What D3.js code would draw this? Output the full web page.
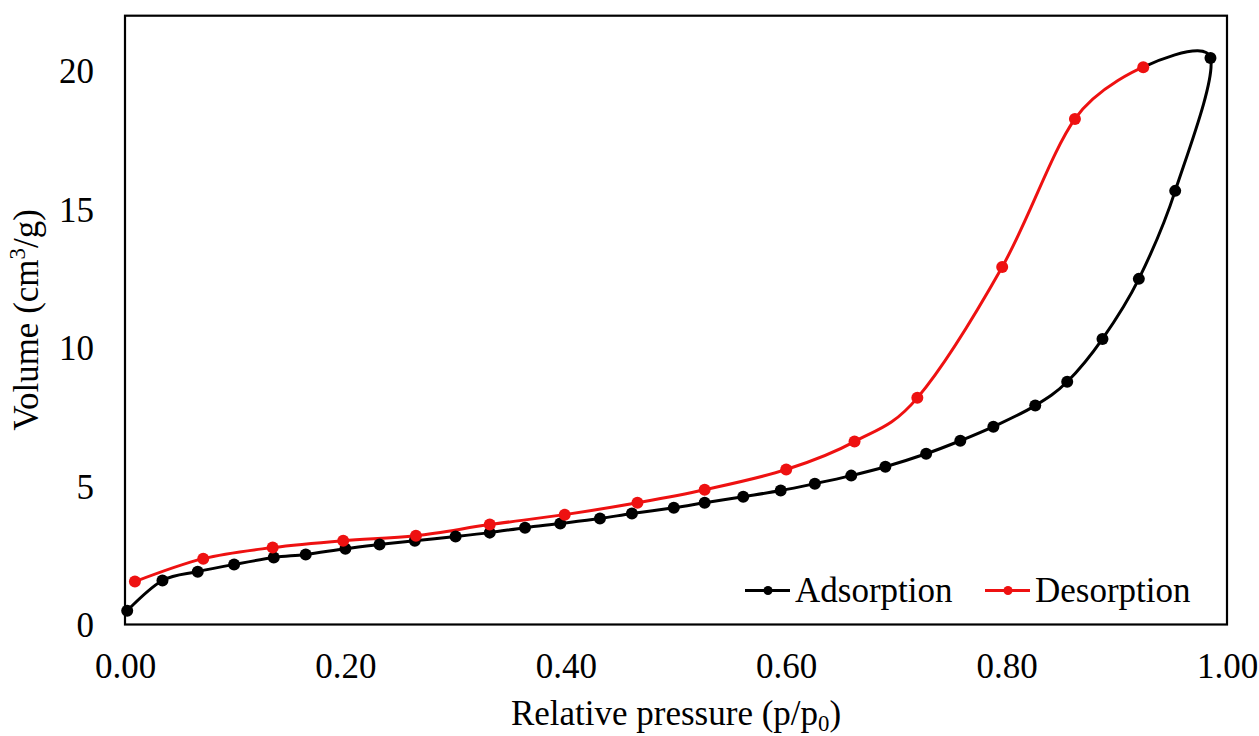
<!DOCTYPE html>
<html>
<head>
<meta charset="utf-8">
<script src="https://cdn.jsdelivr.net/npm/d3@7"></script>
</head>
<body style="margin:0;background:#fff">
<svg id="chart" width="1259" height="736" font-family="&quot;Liberation Serif&quot;, serif" style="display:block"></svg>
<script>
// ---- Data ----
const adsX = [0.002, 0.034, 0.066, 0.099, 0.135, 0.164, 0.200, 0.231, 0.263, 0.300,
              0.331, 0.363, 0.395, 0.431, 0.460, 0.498, 0.526, 0.561, 0.595, 0.626,
              0.659, 0.690, 0.727, 0.758, 0.788, 0.826, 0.855, 0.887, 0.920, 0.953, 0.985];
const adsY = [0.50, 1.59, 1.91, 2.17, 2.42, 2.53, 2.74, 2.89, 3.03, 3.18,
              3.32, 3.50, 3.65, 3.83, 4.01, 4.22, 4.40, 4.62, 4.84, 5.09,
              5.38, 5.70, 6.17, 6.64, 7.15, 7.91, 8.77, 10.32, 12.49, 15.67, 20.47];
const desX = [0.924, 0.862, 0.796, 0.719, 0.662, 0.600, 0.526, 0.465, 0.399, 0.331,
              0.264, 0.198, 0.134, 0.071, 0.009];
const desY = [20.14, 18.27, 12.92, 8.19, 6.61, 5.60, 4.87, 4.40, 3.97, 3.61,
              3.21, 3.03, 2.78, 2.38, 1.55];
const xTicks = [0, 0.2, 0.4, 0.6, 0.8, 1.0];
const yTicks = [0, 5, 10, 15, 20];
const seriesNames = ["Adsorption", "Desorption"];
const seriesColors = ["#000000", "#ee1111"];

(function () {
const FF = '"Liberation Serif", serif';
const svg = d3.select("#chart");
const pl = 125, pr = 1227, pt = 15.7, pb = 624.5;
const FS = 35;

const x = d3.scaleLinear().domain([0, 1]).range([pl, pr]);
const y = d3.scaleLinear().domain([0, 22]).range([pb, pt]);

const ads = adsX.map((v, i) => [v, adsY[i]]);
const des = desX.map((v, i) => [v, desY[i]]);
// adsorption line closes onto the first desorption point
const adsLine = ads.concat([des[0]]);

const line = d3.line()
  .x(d => x(d[0])).y(d => y(d[1]))
  .curve(d3.curveCardinal.tension(0));

const g = svg.append("g");

// Frame
g.append("rect")
  .attr("x", pl).attr("y", pt)
  .attr("width", pr - pl).attr("height", pb - pt)
  .attr("fill", "none").attr("stroke", "#000").attr("stroke-width", 2.2);

// Axes (no tick marks, labels only)
const xAxis = d3.axisBottom(x).tickValues(xTicks).tickSize(0).tickPadding(0)
  .tickFormat(d3.format(".2f"));
const xg = g.append("g").attr("transform", `translate(0,${pb})`).call(xAxis);
xg.attr("font-family", FF).attr("font-size", FS);
xg.select(".domain").remove();
xg.selectAll("text")
  .attr("dy", null).attr("y", 678 - pb).attr("fill", "#000")
  .attr("font-family", FF).attr("font-size", FS);

const yAxis = d3.axisLeft(y).tickValues(yTicks).tickSize(0).tickPadding(0)
  .tickFormat(d3.format("d"));
const yg = g.append("g").attr("transform", `translate(${94},0)`).call(yAxis);
yg.attr("font-family", FF).attr("font-size", FS);
yg.select(".domain").remove();
yg.selectAll("text")
  .attr("dy", "0.34em").attr("x", 0).attr("fill", "#000")
  .attr("font-family", FF).attr("font-size", FS);

// Lines
g.append("path").datum(adsLine)
  .attr("d", line).attr("fill", "none")
  .attr("stroke", seriesColors[0]).attr("stroke-width", 3);
g.append("path").datum(des)
  .attr("d", line).attr("fill", "none")
  .attr("stroke", seriesColors[1]).attr("stroke-width", 3);

// Markers
g.append("g").selectAll("circle").data(ads).join("circle")
  .attr("cx", d => x(d[0])).attr("cy", d => y(d[1])).attr("r", 6)
  .attr("fill", seriesColors[0]);
g.append("g").selectAll("circle").data(des).join("circle")
  .attr("cx", d => x(d[0])).attr("cy", d => y(d[1])).attr("r", 6)
  .attr("fill", seriesColors[1]);

// Axis titles
const xt = svg.append("text")
  .attr("x", (pl + pr) / 2).attr("y", 725)
  .attr("text-anchor", "middle").attr("font-family", FF).attr("font-size", FS);
xt.append("tspan").text("Relative pressure (p/p");
xt.append("tspan").text("0").attr("font-size", FS * 0.65).attr("dy", 6);
xt.append("tspan").text(")").attr("dy", -6);

const yt = svg.append("text")
  .attr("transform", "translate(38,320) rotate(-90)")
  .attr("text-anchor", "middle").attr("font-family", FF).attr("font-size", FS);
yt.append("tspan").text("Volume (cm");
yt.append("tspan").text("3").attr("font-size", FS * 0.65).attr("dy", -13);
yt.append("tspan").text("/g)").attr("dy", 13);

// Legend
const legY = 590.5;
const legItems = [{x0: 745, name: seriesNames[0], color: seriesColors[0]},
                  {x0: 985, name: seriesNames[1], color: seriesColors[1]}];
const lg = svg.append("g");
legItems.forEach(it => {
  lg.append("line").attr("x1", it.x0).attr("x2", it.x0 + 45)
    .attr("y1", legY).attr("y2", legY)
    .attr("stroke", it.color).attr("stroke-width", 3);
  lg.append("circle").attr("cx", it.x0 + 23).attr("cy", legY).attr("r", 4.5)
    .attr("fill", it.color);
  lg.append("text").attr("x", it.x0 + 50).attr("y", 602)
    .attr("font-family", FF).attr("font-size", FS).text(it.name);
});
})();
</script>
</body>
</html>
